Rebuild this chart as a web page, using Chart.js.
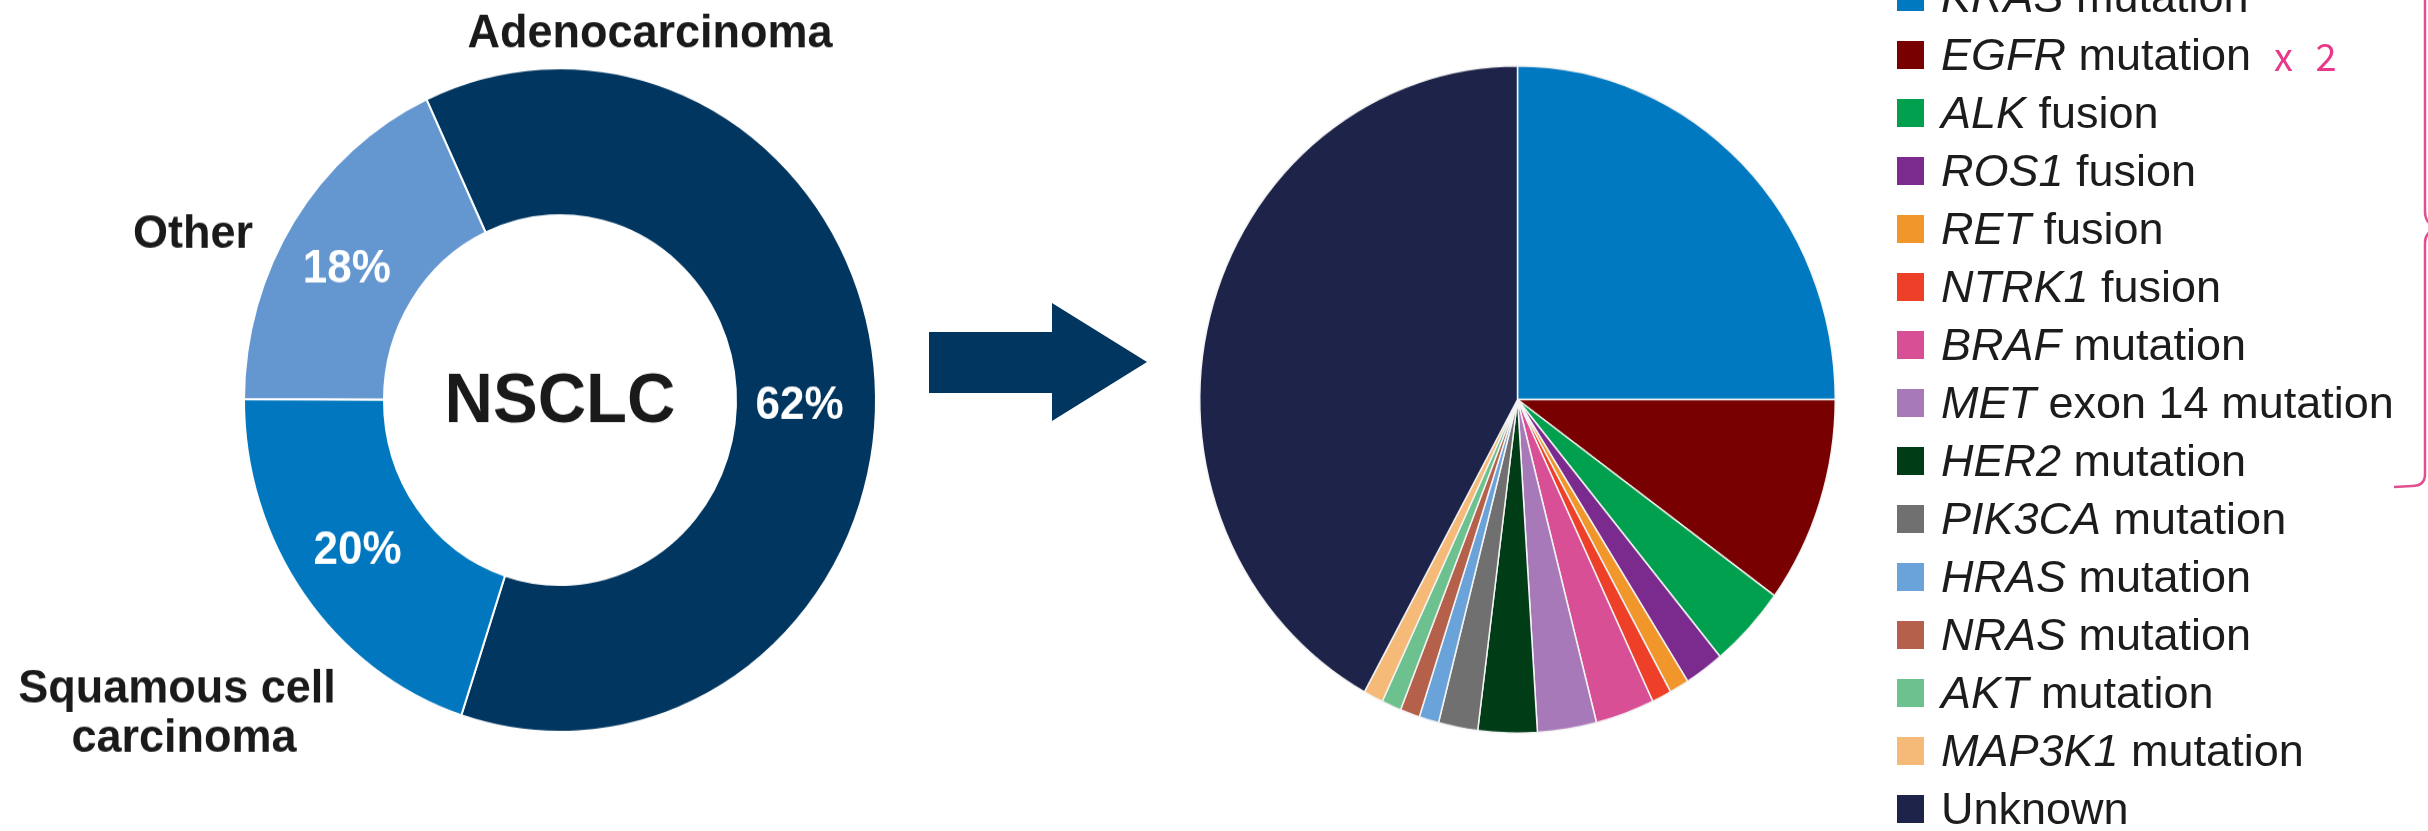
<!DOCTYPE html>
<html><head><meta charset="utf-8">
<script src="https://cdn.jsdelivr.net/npm/chart.js@4.4.1/dist/chart.umd.min.js"></script>
<style>
html,body{margin:0;padding:0;background:#fff;}
body{width:2428px;height:831px;position:relative;overflow:hidden;font-family:"Liberation Sans",Arial,sans-serif;}
#donutWrap{position:absolute;left:0;top:0;width:900px;height:792px;transform:scaleY(1.05);transform-origin:0 0;}
#pieWrap{position:absolute;left:1150px;top:0;width:730px;height:792px;transform:scaleY(1.05);transform-origin:0 0;}
#legend{position:absolute;left:1897px;top:0;width:531px;height:831px;}
.row{position:absolute;left:0;height:58px;display:flex;align-items:center;white-space:nowrap;font-size:45px;color:#1c1c1c;}
.sw{width:27px;height:28px;margin-right:17px;flex:none;}
#note{position:absolute;left:2274px;top:30px;height:50px;line-height:50px;font-family:"Noto Sans CJK JP","DejaVu Sans",sans-serif;font-size:38px;color:#e8388a;word-spacing:14px;white-space:nowrap;}
#deco{position:absolute;left:0;top:0;pointer-events:none;}
</style></head><body>
<div id="donutWrap"><canvas id="donut" width="900" height="792" style="width:900px;height:792px"></canvas></div>
<div id="pieWrap"><canvas id="pie" width="730" height="792" style="width:730px;height:792px"></canvas></div>
<svg id="deco" width="2428" height="831" viewBox="0 0 2428 831">
  <polygon points="929,332 1052,332 1052,303 1147,362 1052,421 1052,393 929,393" fill="#003660"/>
  <path d="M2425 0 L2425 212 Q2425 220 2431 225" fill="none" stroke="#e05090" stroke-width="2.5"/>
  <path d="M2431 231 Q2425 235 2425 243 L2425 474 Q2425 486 2412 486 L2394 487" fill="none" stroke="#e05090" stroke-width="2.5"/>
</svg>
<div id="legend"></div>
<div id="note">x 2</div>
<script>
// ---- Donut: NSCLC histology ----
const donutCategories = ['Adenocarcinoma', 'Squamous cell carcinoma', 'Other'];
const donutValues = [62, 20, 18];
const donutColors = ['#003660', '#0077be', '#6497d0'];
const donutNameLines = [['Adenocarcinoma'], ['Squamous cell', 'carcinoma'], ['Other']];
const donutCenterText = 'NSCLC';

// ---- Pie: oncogenic drivers ----
const pieGenes = ['KRAS','EGFR','ALK','ROS1','RET','NTRK1','BRAF','MET','HER2','PIK3CA','HRAS','NRAS','AKT','MAP3K1','Unknown'];
const pieAlterations = ['mutation','mutation','fusion','fusion','fusion','fusion','mutation','exon 14 mutation','mutation','mutation','mutation','mutation','mutation','mutation',''];
const pieItalic = [true,true,true,true,true,true,true,true,true,true,true,true,true,true,false];
const pieValues = [25, 10, 4, 2, 1, 1, 3, 3, 3, 2, 1, 1, 1, 1, 42];
const pieColors = ['#0079c1','#780000','#00a04e','#7b2a8e','#f0962a','#ee4028','#d94f95','#a779b8','#003d16','#707070','#6aa2da','#b4604a','#6cc18e','#f5ba78','#1d2349'];

const FONT = '"Liberation Sans", Arial, sans-serif';

// layout: label anchor offsets from donut centre (canvas units)
const nameOffsets = [[[90,-336]], [[-383,288],[-376,335]], [[-367,-145]]];
// layout: small nudges of the percentage labels from the arc centroids
const pctNudge = [[-6,17], [-3,-4], [-6,5]];

const donutLabels = {
  id: 'donutLabels',
  afterDatasetsDraw(chart) {
    const ctx = chart.ctx;
    const meta = chart.getDatasetMeta(0);
    const ca = chart.chartArea;
    const cx = (ca.left + ca.right) / 2, cy = (ca.top + ca.bottom) / 2;
    ctx.save();
    ctx.textAlign = 'center';
    ctx.textBaseline = 'alphabetic';
    ctx.fillStyle = '#ffffff';
    ctx.font = 'bold 44px ' + FONT;
    meta.data.forEach((arc, i) => {
      const p = arc.tooltipPosition();
      ctx.fillText(donutValues[i] + '%', p.x + pctNudge[i][0], p.y + 16 + pctNudge[i][1]);
    });
    ctx.fillStyle = '#1a1a1a';
    ctx.font = 'bold 67px ' + FONT;
    ctx.fillText(donutCenterText, cx, cy + 21);
    ctx.font = 'bold 45px ' + FONT;
    donutNameLines.forEach((lines, i) => {
      lines.forEach((t, j) => {
        const o = nameOffsets[i][j];
        ctx.fillText(t, cx + o[0], cy + o[1]);
      });
    });
    ctx.restore();
  }
};

new Chart(document.getElementById('donut'), {
  type: 'doughnut',
  data: { labels: donutCategories, datasets: [{ data: donutValues, backgroundColor: donutColors, borderColor: '#ffffff', borderWidth: 2 }] },
  options: {
    responsive: false, animation: false, rotation: -25, cutout: '55.7%',
    layout: { padding: { left: 243, right: 23, top: 64, bottom: 94 } },
    plugins: { legend: { display: false }, tooltip: { enabled: false } }
  },
  plugins: [donutLabels]
});

new Chart(document.getElementById('pie'), {
  type: 'pie',
  data: { labels: pieGenes, datasets: [{ data: pieValues, backgroundColor: pieColors, borderColor: '#f4f4f4', borderWidth: 1.5 }] },
  options: {
    responsive: false, animation: false, rotation: 0,
    layout: { padding: { left: 49, right: 44, top: 62, bottom: 93 } },
    plugins: { legend: { display: false }, tooltip: { enabled: false } }
  }
});

// HTML legend built from the pie arrays
const legend = document.getElementById('legend');
pieGenes.forEach((g, i) => {
  const row = document.createElement('div');
  row.className = 'row';
  row.style.top = (-32 + 58 * i) + 'px';
  const sw = document.createElement('span');
  sw.className = 'sw';
  sw.style.background = pieColors[i];
  row.appendChild(sw);
  const txt = document.createElement('span');
  const name = document.createElement(pieItalic[i] ? 'i' : 'span');
  name.textContent = g;
  txt.appendChild(name);
  if (pieAlterations[i]) txt.appendChild(document.createTextNode(' ' + pieAlterations[i]));
  row.appendChild(txt);
  legend.appendChild(row);
});
</script>
</body></html>
